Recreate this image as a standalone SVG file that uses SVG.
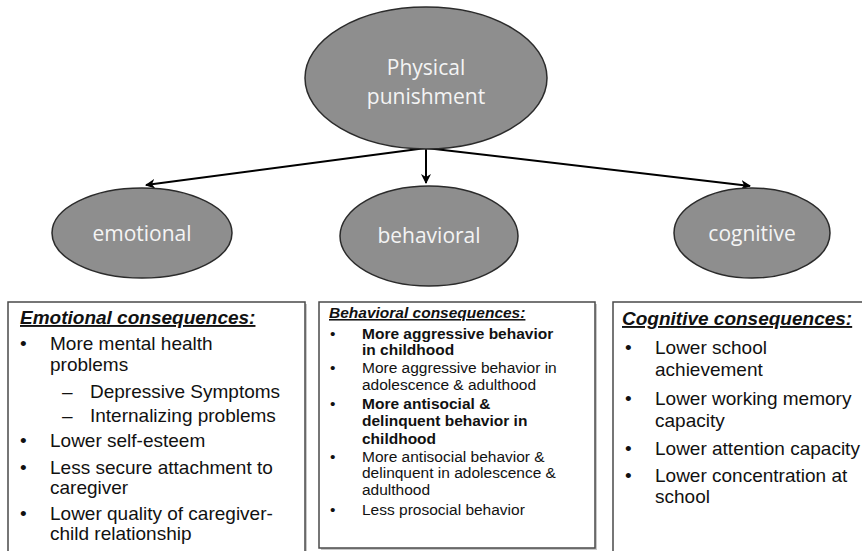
<svg xmlns="http://www.w3.org/2000/svg" width="862" height="551" viewBox="0 0 862 551">
<style>
.node ellipse{fill:#8e8e8e;stroke:#2b2b2b;stroke-width:1.5}
.ntext{font-family:"Open Sans","Noto Sans",sans-serif;fill:#f4f4f4;text-anchor:middle}
.box{fill:#ffffff;stroke:#4a4a4a;stroke-width:1.5}
.shadow{fill:#c8c8c8}
.t{font-family:"Liberation Sans",Arial,sans-serif;fill:#111}
.title{font-weight:bold;font-style:italic;text-decoration:underline}
.conn{stroke:#000;stroke-width:2;fill:none}
</style>
<defs>
<marker id="arr" viewBox="0 0 10 10" refX="9" refY="5" markerWidth="5" markerHeight="5" orient="auto" markerUnits="strokeWidth">
<path d="M0,0 L10,5 L0,10 L3,5 Z" fill="#000"/>
</marker>
</defs>
<rect width="862" height="551" fill="#ffffff"/>

<g id="connectors">
<line class="conn" x1="426" y1="148" x2="426" y2="183" marker-end="url(#arr)"/>
<line class="conn" x1="426" y1="148" x2="146" y2="185" marker-end="url(#arr)"/>
<line class="conn" x1="426" y1="148" x2="750" y2="186" marker-end="url(#arr)"/>
</g>

<g id="physical-punishment" class="node">
<ellipse cx="426" cy="78" rx="121" ry="71"/>
<text class="ntext" x="426" y="75" font-size="21">Physical</text>
<text class="ntext" x="426" y="104" font-size="21">punishment</text>
</g>

<g id="emotional" class="node">
<ellipse cx="142" cy="233" rx="90" ry="45"/>
<text class="ntext" x="142" y="241" font-size="21">emotional</text>
</g>

<g id="behavioral" class="node">
<ellipse cx="429" cy="236" rx="89" ry="50"/>
<text class="ntext" x="429" y="243" font-size="21">behavioral</text>
</g>

<g id="cognitive" class="node">
<ellipse cx="752" cy="233" rx="78" ry="45"/>
<text class="ntext" x="752" y="241" font-size="21">cognitive</text>
</g>

<g id="emotional-consequences">
<rect class="shadow" x="10" y="304" width="297" height="260"/>
<rect class="box" x="8" y="302" width="297" height="260"/>
<g class="t" font-size="19">
<text class="title" x="20" y="324">Emotional consequences:</text>
<text x="20" y="350">•</text><text x="50" y="350">More mental health</text>
<text x="50" y="371">problems</text>
<text x="62" y="398">–</text><text x="90" y="398">Depressive Symptoms</text>
<text x="62" y="422">–</text><text x="90" y="422">Internalizing problems</text>
<text x="20" y="447">•</text><text x="50" y="447">Lower self-esteem</text>
<text x="20" y="474">•</text><text x="50" y="474">Less secure attachment to</text>
<text x="50" y="494">caregiver</text>
<text x="20" y="520">•</text><text x="50" y="520">Lower quality of caregiver-</text>
<text x="50" y="540">child relationship</text>
</g>
</g>

<g id="behavioral-consequences">
<rect class="shadow" x="321" y="304" width="276" height="246"/>
<rect class="box" x="319" y="302" width="276" height="246"/>
<g class="t" font-size="15.5">
<text class="title" x="329" y="318">Behavioral consequences:</text>
<g font-weight="bold">
<text x="330" y="339" font-weight="normal">•</text><text x="362" y="339">More aggressive behavior</text>
<text x="362" y="355">in childhood</text>
</g>
<text x="330" y="373">•</text><text x="362" y="373">More aggressive behavior in</text>
<text x="362" y="390">adolescence &amp; adulthood</text>
<g font-weight="bold">
<text x="330" y="409" font-weight="normal">•</text><text x="362" y="409">More antisocial &amp;</text>
<text x="362" y="426">delinquent behavior in</text>
<text x="362" y="444">childhood</text>
</g>
<text x="330" y="462">•</text><text x="362" y="462">More antisocial behavior &amp;</text>
<text x="362" y="478">delinquent in adolescence &amp;</text>
<text x="362" y="495">adulthood</text>
<text x="330" y="515">•</text><text x="362" y="515">Less prosocial behavior</text>
</g>
</g>

<g id="cognitive-consequences">
<rect class="shadow" x="615" y="304" width="260" height="260"/>
<rect class="box" x="613" y="302" width="260" height="260"/>
<g class="t" font-size="19">
<text class="title" x="622" y="325">Cognitive consequences:</text>
<text x="625" y="354">•</text><text x="655" y="354">Lower school</text>
<text x="655" y="376">achievement</text>
<text x="625" y="405">•</text><text x="655" y="405">Lower working memory</text>
<text x="655" y="427">capacity</text>
<text x="625" y="455">•</text><text x="655" y="455">Lower attention capacity</text>
<text x="625" y="482">•</text><text x="655" y="482">Lower concentration at</text>
<text x="655" y="503">school</text>
</g>
</g>
</svg>
